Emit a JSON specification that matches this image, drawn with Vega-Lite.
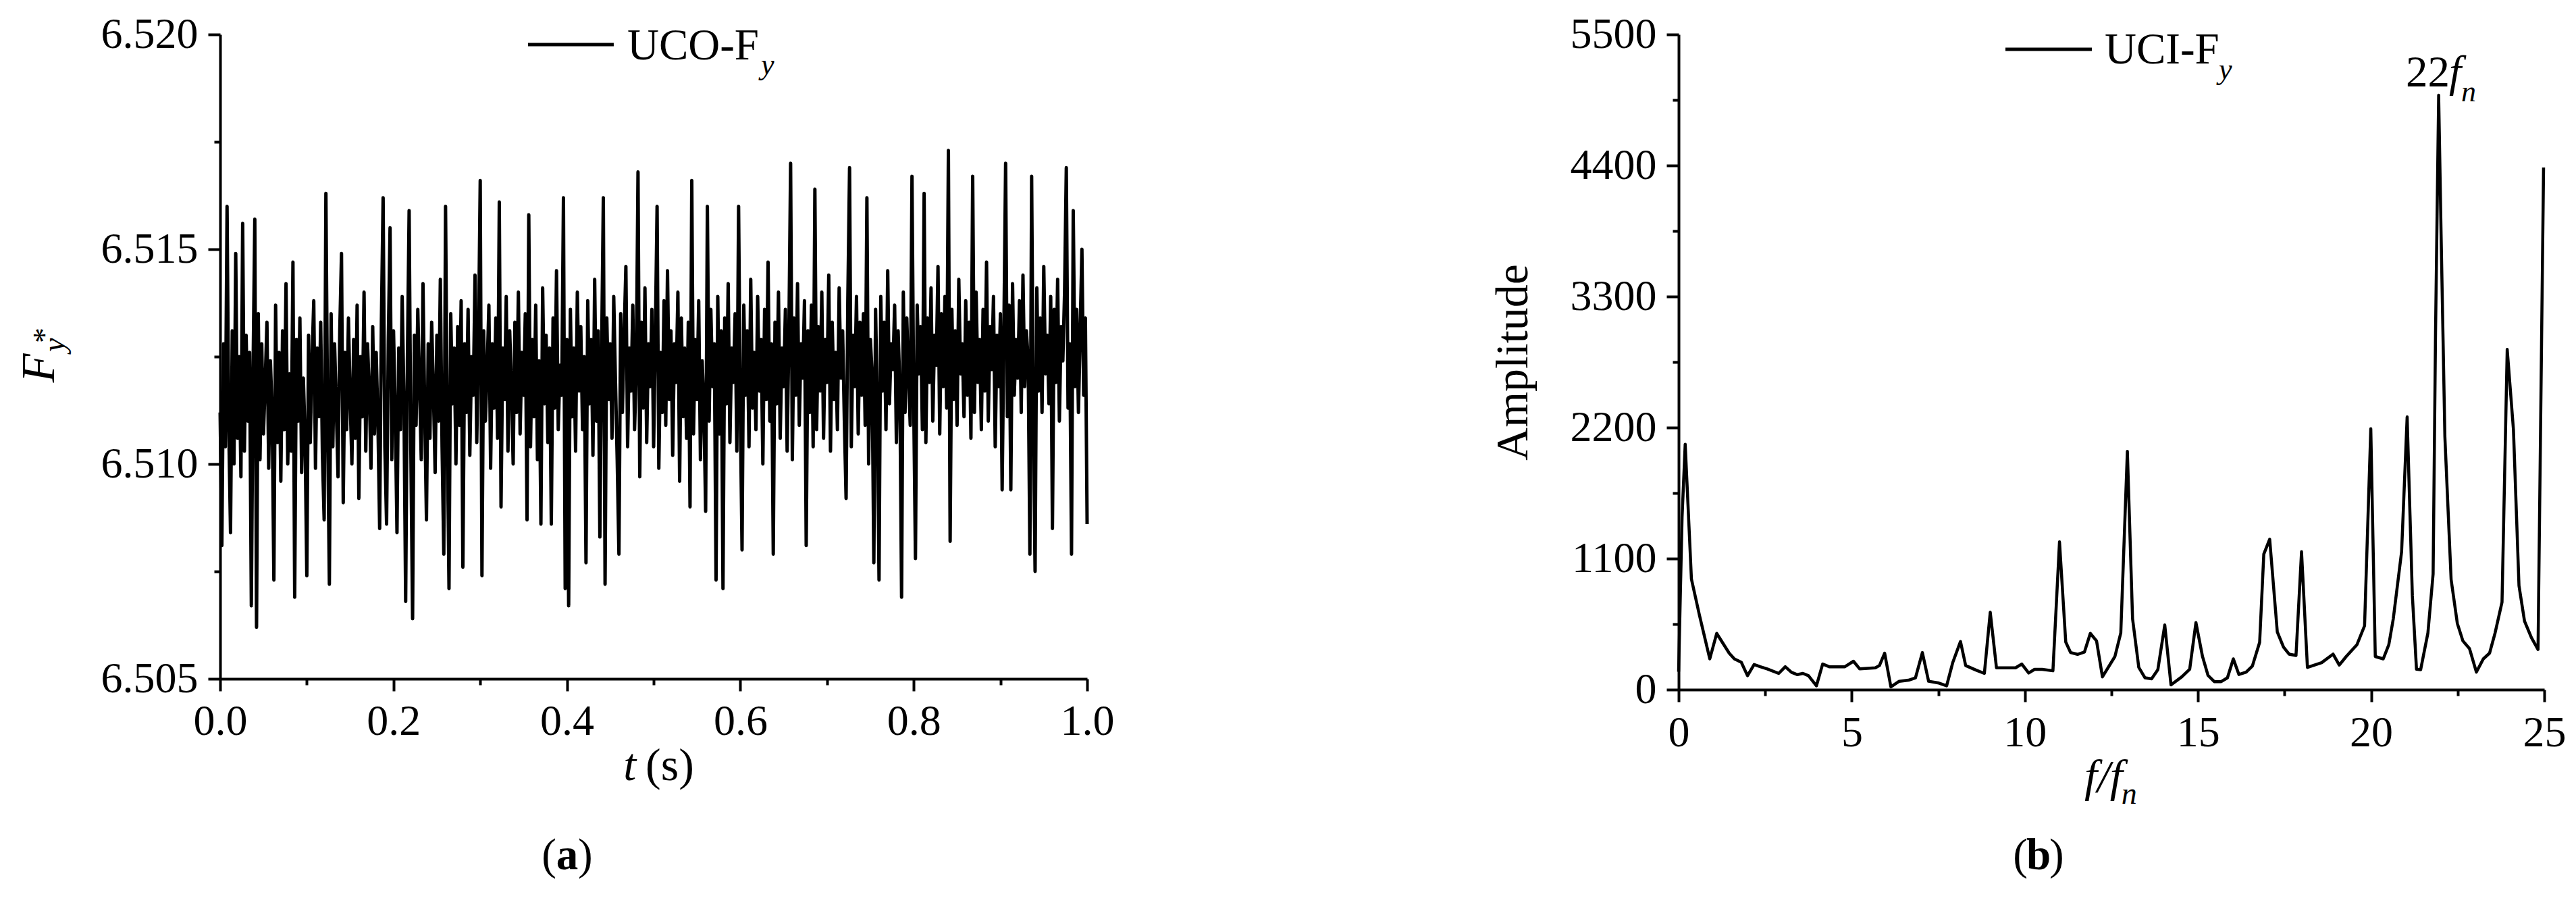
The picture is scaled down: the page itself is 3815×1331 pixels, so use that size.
{
"$schema": "https://vega.github.io/schema/vega-lite/v6.json",
"autosize": {"type": "none"},
"padding": {"left": 326, "top": 51, "right": 3489, "bottom": 1280},
"background": "white",
"bounds": "flush",
"spacing": 876,
"config": {
 "view": {"stroke": null},
 "axis": {"domainColor": "black", "domainWidth": 4, "tickColor": "black", "tickWidth": 4, "labelFont": "Liberation Serif", "labelFontSize": 64, "labelColor": "black", "grid": false, "labelFlush": false, "labelOverlap": false, "titleFont": "Liberation Serif", "titleColor": "black", "titleFontWeight": "normal"},
 "text": {"font": "Liberation Serif", "color": "black"}
},
"datasets": {
"fy": [
{"t":0,"v":6.5112},{"t":0.002,"v":6.5081},{"t":0.004,"v":6.5128},{"t":0.006,"v":6.5104},{"t":0.008,"v":6.5160},{"t":0.010,"v":6.5108},{"t":0.012,"v":6.5084},{"t":0.014,"v":6.5131},{"t":0.016,"v":6.5100},{"t":0.018,"v":6.5149},
{"t":0.020,"v":6.5106},{"t":0.022,"v":6.5125},{"t":0.024,"v":6.5097},{"t":0.026,"v":6.5156},{"t":0.028,"v":6.5103},{"t":0.030,"v":6.5130},{"t":0.032,"v":6.5110},{"t":0.034,"v":6.5126},{"t":0.036,"v":6.5067},{"t":0.038,"v":6.5122},
{"t":0.040,"v":6.5157},{"t":0.042,"v":6.5062},{"t":0.044,"v":6.5135},{"t":0.046,"v":6.5101},{"t":0.048,"v":6.5128},{"t":0.050,"v":6.5107},{"t":0.052,"v":6.5119},{"t":0.054,"v":6.5133},{"t":0.056,"v":6.5099},{"t":0.058,"v":6.5124},
{"t":0.060,"v":6.5112},{"t":0.062,"v":6.5073},{"t":0.064,"v":6.5137},{"t":0.066,"v":6.5105},{"t":0.068,"v":6.5126},{"t":0.070,"v":6.5096},{"t":0.072,"v":6.5131},{"t":0.074,"v":6.5108},{"t":0.076,"v":6.5142},{"t":0.078,"v":6.5100},
{"t":0.080,"v":6.5121},{"t":0.082,"v":6.5103},{"t":0.084,"v":6.5147},{"t":0.086,"v":6.5069},{"t":0.088,"v":6.5129},{"t":0.090,"v":6.5110},{"t":0.092,"v":6.5134},{"t":0.094,"v":6.5098},{"t":0.096,"v":6.5120},{"t":0.098,"v":6.5106},
{"t":0.100,"v":6.5074},{"t":0.102,"v":6.5130},{"t":0.104,"v":6.5105},{"t":0.106,"v":6.5124},{"t":0.108,"v":6.5138},{"t":0.110,"v":6.5099},{"t":0.112,"v":6.5127},{"t":0.114,"v":6.5111},{"t":0.116,"v":6.5133},{"t":0.118,"v":6.5102},
{"t":0.120,"v":6.5087},{"t":0.122,"v":6.5163},{"t":0.124,"v":6.5109},{"t":0.126,"v":6.5072},{"t":0.128,"v":6.5135},{"t":0.130,"v":6.5104},{"t":0.132,"v":6.5128},{"t":0.134,"v":6.5113},{"t":0.136,"v":6.5097},{"t":0.138,"v":6.5131},
{"t":0.140,"v":6.5149},{"t":0.142,"v":6.5091},{"t":0.144,"v":6.5126},{"t":0.146,"v":6.5108},{"t":0.148,"v":6.5134},{"t":0.150,"v":6.5115},{"t":0.152,"v":6.5100},{"t":0.154,"v":6.5129},{"t":0.156,"v":6.5106},{"t":0.158,"v":6.5137},
{"t":0.160,"v":6.5092},{"t":0.162,"v":6.5125},{"t":0.164,"v":6.5111},{"t":0.166,"v":6.5140},{"t":0.168,"v":6.5103},{"t":0.170,"v":6.5128},{"t":0.172,"v":6.5117},{"t":0.174,"v":6.5099},{"t":0.176,"v":6.5132},{"t":0.178,"v":6.5107},
{"t":0.180,"v":6.5126},{"t":0.182,"v":6.5110},{"t":0.184,"v":6.5085},{"t":0.186,"v":6.5133},{"t":0.188,"v":6.5162},{"t":0.190,"v":6.5104},{"t":0.192,"v":6.5086},{"t":0.194,"v":6.5129},{"t":0.196,"v":6.5155},{"t":0.198,"v":6.5101},
{"t":0.200,"v":6.5131},{"t":0.202,"v":6.5112},{"t":0.204,"v":6.5084},{"t":0.206,"v":6.5127},{"t":0.208,"v":6.5108},{"t":0.210,"v":6.5139},{"t":0.212,"v":6.5115},{"t":0.214,"v":6.5068},{"t":0.216,"v":6.5124},{"t":0.218,"v":6.5159},
{"t":0.220,"v":6.5103},{"t":0.222,"v":6.5064},{"t":0.224,"v":6.5130},{"t":0.226,"v":6.5109},{"t":0.228,"v":6.5136},{"t":0.230,"v":6.5118},{"t":0.232,"v":6.5101},{"t":0.234,"v":6.5142},{"t":0.236,"v":6.5112},{"t":0.238,"v":6.5087},
{"t":0.240,"v":6.5128},{"t":0.242,"v":6.5106},{"t":0.244,"v":6.5133},{"t":0.246,"v":6.5117},{"t":0.248,"v":6.5098},{"t":0.250,"v":6.5130},{"t":0.252,"v":6.5110},{"t":0.254,"v":6.5143},{"t":0.256,"v":6.5104},{"t":0.258,"v":6.5079},
{"t":0.260,"v":6.5160},{"t":0.262,"v":6.5107},{"t":0.264,"v":6.5071},{"t":0.266,"v":6.5135},{"t":0.268,"v":6.5114},{"t":0.270,"v":6.5127},{"t":0.272,"v":6.5100},{"t":0.274,"v":6.5132},{"t":0.276,"v":6.5109},{"t":0.278,"v":6.5138},
{"t":0.280,"v":6.5076},{"t":0.282,"v":6.5128},{"t":0.284,"v":6.5112},{"t":0.286,"v":6.5136},{"t":0.288,"v":6.5102},{"t":0.290,"v":6.5125},{"t":0.292,"v":6.5116},{"t":0.294,"v":6.5144},{"t":0.296,"v":6.5105},{"t":0.298,"v":6.5129},
{"t":0.300,"v":6.5166},{"t":0.302,"v":6.5074},{"t":0.304,"v":6.5131},{"t":0.306,"v":6.5110},{"t":0.308,"v":6.5122},{"t":0.310,"v":6.5137},{"t":0.312,"v":6.5099},{"t":0.314,"v":6.5128},{"t":0.316,"v":6.5113},{"t":0.318,"v":6.5134},
{"t":0.320,"v":6.5106},{"t":0.322,"v":6.5161},{"t":0.324,"v":6.5090},{"t":0.326,"v":6.5127},{"t":0.328,"v":6.5115},{"t":0.330,"v":6.5139},{"t":0.332,"v":6.5103},{"t":0.334,"v":6.5131},{"t":0.336,"v":6.5118},{"t":0.338,"v":6.5100},
{"t":0.340,"v":6.5133},{"t":0.342,"v":6.5112},{"t":0.344,"v":6.5140},{"t":0.346,"v":6.5107},{"t":0.348,"v":6.5126},{"t":0.350,"v":6.5116},{"t":0.352,"v":6.5135},{"t":0.354,"v":6.5087},{"t":0.356,"v":6.5158},{"t":0.358,"v":6.5104},
{"t":0.360,"v":6.5129},{"t":0.362,"v":6.5111},{"t":0.364,"v":6.5137},{"t":0.366,"v":6.5101},{"t":0.368,"v":6.5124},{"t":0.370,"v":6.5086},{"t":0.372,"v":6.5141},{"t":0.374,"v":6.5114},{"t":0.376,"v":6.5130},{"t":0.378,"v":6.5105},
{"t":0.380,"v":6.5127},{"t":0.382,"v":6.5086},{"t":0.384,"v":6.5134},{"t":0.386,"v":6.5113},{"t":0.388,"v":6.5145},{"t":0.390,"v":6.5108},{"t":0.392,"v":6.5123},{"t":0.394,"v":6.5116},{"t":0.396,"v":6.5162},{"t":0.398,"v":6.5071},
{"t":0.400,"v":6.5129},{"t":0.402,"v":6.5067},{"t":0.404,"v":6.5136},{"t":0.406,"v":6.5111},{"t":0.408,"v":6.5127},{"t":0.410,"v":6.5103},{"t":0.412,"v":6.5140},{"t":0.414,"v":6.5117},{"t":0.416,"v":6.5132},{"t":0.418,"v":6.5108},
{"t":0.420,"v":6.5125},{"t":0.422,"v":6.5077},{"t":0.424,"v":6.5138},{"t":0.426,"v":6.5114},{"t":0.428,"v":6.5129},{"t":0.430,"v":6.5102},{"t":0.432,"v":6.5143},{"t":0.434,"v":6.5110},{"t":0.436,"v":6.5131},{"t":0.438,"v":6.5083},
{"t":0.440,"v":6.5126},{"t":0.442,"v":6.5162},{"t":0.444,"v":6.5072},{"t":0.446,"v":6.5134},{"t":0.448,"v":6.5115},{"t":0.450,"v":6.5128},{"t":0.452,"v":6.5106},{"t":0.454,"v":6.5139},{"t":0.456,"v":6.5119},{"t":0.458,"v":6.5101},
{"t":0.460,"v":6.5079},{"t":0.462,"v":6.5135},{"t":0.464,"v":6.5112},{"t":0.466,"v":6.5130},{"t":0.468,"v":6.5146},{"t":0.470,"v":6.5104},{"t":0.472,"v":6.5127},{"t":0.474,"v":6.5117},{"t":0.476,"v":6.5137},{"t":0.478,"v":6.5108},
{"t":0.480,"v":6.5122},{"t":0.482,"v":6.5168},{"t":0.484,"v":6.5097},{"t":0.486,"v":6.5133},{"t":0.488,"v":6.5113},{"t":0.490,"v":6.5141},{"t":0.492,"v":6.5105},{"t":0.494,"v":6.5128},{"t":0.496,"v":6.5118},{"t":0.498,"v":6.5136},
{"t":0.500,"v":6.5104},{"t":0.502,"v":6.5130},{"t":0.504,"v":6.5160},{"t":0.506,"v":6.5099},{"t":0.508,"v":6.5126},{"t":0.510,"v":6.5112},{"t":0.512,"v":6.5138},{"t":0.514,"v":6.5109},{"t":0.516,"v":6.5145},{"t":0.518,"v":6.5115},
{"t":0.520,"v":6.5131},{"t":0.522,"v":6.5102},{"t":0.524,"v":6.5128},{"t":0.526,"v":6.5119},{"t":0.528,"v":6.5140},{"t":0.530,"v":6.5096},{"t":0.532,"v":6.5134},{"t":0.534,"v":6.5111},{"t":0.536,"v":6.5127},{"t":0.538,"v":6.5106},
{"t":0.540,"v":6.5133},{"t":0.542,"v":6.5090},{"t":0.544,"v":6.5166},{"t":0.546,"v":6.5107},{"t":0.548,"v":6.5129},{"t":0.550,"v":6.5115},{"t":0.552,"v":6.5138},{"t":0.554,"v":6.5101},{"t":0.556,"v":6.5124},{"t":0.558,"v":6.5113},
{"t":0.560,"v":6.5089},{"t":0.562,"v":6.5160},{"t":0.564,"v":6.5110},{"t":0.566,"v":6.5136},{"t":0.568,"v":6.5118},{"t":0.570,"v":6.5128},{"t":0.572,"v":6.5073},{"t":0.574,"v":6.5139},{"t":0.576,"v":6.5107},{"t":0.578,"v":6.5131},
{"t":0.580,"v":6.5071},{"t":0.582,"v":6.5134},{"t":0.584,"v":6.5114},{"t":0.586,"v":6.5142},{"t":0.588,"v":6.5105},{"t":0.590,"v":6.5127},{"t":0.592,"v":6.5119},{"t":0.594,"v":6.5135},{"t":0.596,"v":6.5103},{"t":0.598,"v":6.5160},
{"t":0.600,"v":6.5112},{"t":0.602,"v":6.5080},{"t":0.604,"v":6.5137},{"t":0.606,"v":6.5116},{"t":0.608,"v":6.5131},{"t":0.610,"v":6.5104},{"t":0.612,"v":6.5143},{"t":0.614,"v":6.5113},{"t":0.616,"v":6.5126},{"t":0.618,"v":6.5108},
{"t":0.620,"v":6.5139},{"t":0.622,"v":6.5117},{"t":0.624,"v":6.5129},{"t":0.626,"v":6.5100},{"t":0.628,"v":6.5136},{"t":0.630,"v":6.5115},{"t":0.632,"v":6.5147},{"t":0.634,"v":6.5110},{"t":0.636,"v":6.5128},{"t":0.638,"v":6.5079},
{"t":0.640,"v":6.5133},{"t":0.642,"v":6.5114},{"t":0.644,"v":6.5140},{"t":0.646,"v":6.5106},{"t":0.648,"v":6.5127},{"t":0.650,"v":6.5118},{"t":0.652,"v":6.5136},{"t":0.654,"v":6.5103},{"t":0.656,"v":6.5130},{"t":0.658,"v":6.5170},
{"t":0.660,"v":6.5101},{"t":0.662,"v":6.5134},{"t":0.664,"v":6.5116},{"t":0.666,"v":6.5142},{"t":0.668,"v":6.5109},{"t":0.670,"v":6.5128},{"t":0.672,"v":6.5120},{"t":0.674,"v":6.5138},{"t":0.676,"v":6.5081},{"t":0.678,"v":6.5131},
{"t":0.680,"v":6.5112},{"t":0.682,"v":6.5137},{"t":0.684,"v":6.5104},{"t":0.686,"v":6.5164},{"t":0.688,"v":6.5108},{"t":0.690,"v":6.5132},{"t":0.692,"v":6.5117},{"t":0.694,"v":6.5140},{"t":0.696,"v":6.5106},{"t":0.698,"v":6.5129},
{"t":0.700,"v":6.5119},{"t":0.702,"v":6.5144},{"t":0.704,"v":6.5103},{"t":0.706,"v":6.5133},{"t":0.708,"v":6.5115},{"t":0.710,"v":6.5126},{"t":0.712,"v":6.5108},{"t":0.714,"v":6.5141},{"t":0.716,"v":6.5120},{"t":0.718,"v":6.5131},
{"t":0.720,"v":6.5110},{"t":0.722,"v":6.5092},{"t":0.724,"v":6.5138},{"t":0.726,"v":6.5169},{"t":0.728,"v":6.5104},{"t":0.730,"v":6.5130},{"t":0.732,"v":6.5118},{"t":0.734,"v":6.5139},{"t":0.736,"v":6.5107},{"t":0.738,"v":6.5133},
{"t":0.740,"v":6.5116},{"t":0.742,"v":6.5135},{"t":0.744,"v":6.5109},{"t":0.746,"v":6.5162},{"t":0.748,"v":6.5100},{"t":0.750,"v":6.5129},{"t":0.752,"v":6.5121},{"t":0.754,"v":6.5077},{"t":0.756,"v":6.5136},{"t":0.758,"v":6.5113},
{"t":0.760,"v":6.5073},{"t":0.762,"v":6.5139},{"t":0.764,"v":6.5117},{"t":0.766,"v":6.5133},{"t":0.768,"v":6.5108},{"t":0.770,"v":6.5145},{"t":0.772,"v":6.5114},{"t":0.774,"v":6.5128},{"t":0.776,"v":6.5122},{"t":0.778,"v":6.5137},
{"t":0.780,"v":6.5105},{"t":0.782,"v":6.5131},{"t":0.784,"v":6.5118},{"t":0.786,"v":6.5069},{"t":0.788,"v":6.5140},{"t":0.790,"v":6.5112},{"t":0.792,"v":6.5134},{"t":0.794,"v":6.5120},{"t":0.796,"v":6.5109},{"t":0.798,"v":6.5167},
{"t":0.800,"v":6.5114},{"t":0.802,"v":6.5078},{"t":0.804,"v":6.5137},{"t":0.806,"v":6.5121},{"t":0.808,"v":6.5132},{"t":0.810,"v":6.5108},{"t":0.812,"v":6.5163},{"t":0.814,"v":6.5105},{"t":0.816,"v":6.5134},{"t":0.818,"v":6.5119},
{"t":0.820,"v":6.5141},{"t":0.822,"v":6.5110},{"t":0.824,"v":6.5130},{"t":0.826,"v":6.5123},{"t":0.828,"v":6.5146},{"t":0.830,"v":6.5107},{"t":0.832,"v":6.5135},{"t":0.834,"v":6.5118},{"t":0.836,"v":6.5139},{"t":0.838,"v":6.5113},
{"t":0.840,"v":6.5173},{"t":0.842,"v":6.5082},{"t":0.844,"v":6.5136},{"t":0.846,"v":6.5115},{"t":0.848,"v":6.5131},{"t":0.850,"v":6.5109},{"t":0.852,"v":6.5143},{"t":0.854,"v":6.5121},{"t":0.856,"v":6.5128},{"t":0.858,"v":6.5111},
{"t":0.860,"v":6.5138},{"t":0.862,"v":6.5116},{"t":0.864,"v":6.5133},{"t":0.866,"v":6.5106},{"t":0.868,"v":6.5167},{"t":0.870,"v":6.5112},{"t":0.872,"v":6.5140},{"t":0.874,"v":6.5119},{"t":0.876,"v":6.5129},{"t":0.878,"v":6.5108},
{"t":0.880,"v":6.5136},{"t":0.882,"v":6.5117},{"t":0.884,"v":6.5147},{"t":0.886,"v":6.5110},{"t":0.888,"v":6.5132},{"t":0.890,"v":6.5122},{"t":0.892,"v":6.5139},{"t":0.894,"v":6.5104},{"t":0.896,"v":6.5130},{"t":0.898,"v":6.5118},
{"t":0.900,"v":6.5135},{"t":0.902,"v":6.5094},{"t":0.904,"v":6.5131},{"t":0.906,"v":6.5170},{"t":0.908,"v":6.5111},{"t":0.910,"v":6.5137},{"t":0.912,"v":6.5094},{"t":0.914,"v":6.5142},{"t":0.916,"v":6.5116},{"t":0.918,"v":6.5129},
{"t":0.920,"v":6.5120},{"t":0.922,"v":6.5138},{"t":0.924,"v":6.5112},{"t":0.926,"v":6.5144},{"t":0.928,"v":6.5118},{"t":0.930,"v":6.5131},{"t":0.932,"v":6.5124},{"t":0.934,"v":6.5079},{"t":0.936,"v":6.5167},{"t":0.938,"v":6.5109},
{"t":0.940,"v":6.5075},{"t":0.942,"v":6.5141},{"t":0.944,"v":6.5117},{"t":0.946,"v":6.5134},{"t":0.948,"v":6.5112},{"t":0.950,"v":6.5146},{"t":0.952,"v":6.5121},{"t":0.954,"v":6.5130},{"t":0.956,"v":6.5114},{"t":0.958,"v":6.5139},
{"t":0.960,"v":6.5085},{"t":0.962,"v":6.5136},{"t":0.964,"v":6.5119},{"t":0.966,"v":6.5143},{"t":0.968,"v":6.5110},{"t":0.970,"v":6.5132},{"t":0.972,"v":6.5124},{"t":0.974,"v":6.5140},{"t":0.976,"v":6.5169},{"t":0.978,"v":6.5113},
{"t":0.980,"v":6.5128},{"t":0.982,"v":6.5079},{"t":0.984,"v":6.5159},{"t":0.986,"v":6.5118},{"t":0.988,"v":6.5136},{"t":0.990,"v":6.5112},{"t":0.992,"v":6.5131},{"t":0.994,"v":6.5150},{"t":0.996,"v":6.5116},{"t":0.998,"v":6.5134},
{"t":1,"v":6.5086}
],
"amp": [
{"f":0,"a":150},{"f":0.1,"a":1450},{"f":0.19,"a":2060},{"f":0.37,"a":928},{"f":0.6,"a":626},{"f":0.9,"a":258},{"f":1.1,"a":472},{"f":1.46,"a":306},{"f":1.61,"a":258},{"f":1.81,"a":230},
{"f":1.99,"a":117},{"f":2.18,"a":211},{"f":2.36,"a":192},{"f":2.56,"a":174},{"f":2.89,"a":136},{"f":3.08,"a":192},{"f":3.26,"a":145},{"f":3.43,"a":126},{"f":3.59,"a":136},{"f":3.75,"a":117},
{"f":3.98,"a":32},{"f":4.16,"a":215},{"f":4.35,"a":192},{"f":4.8,"a":192},{"f":5.05,"a":238},{"f":5.23,"a":174},{"f":5.68,"a":183},{"f":5.8,"a":202},{"f":5.95,"a":306},{"f":6.13,"a":23},
{"f":6.37,"a":70},{"f":6.64,"a":79},{"f":6.84,"a":98},{"f":7.04,"a":311},{"f":7.22,"a":70},{"f":7.49,"a":57},{"f":7.74,"a":32},{"f":7.92,"a":230},{"f":8.14,"a":404},{"f":8.29,"a":202},
{"f":8.59,"a":164},{"f":8.83,"a":136},{"f":9.0,"a":649},{"f":9.18,"a":183},{"f":9.48,"a":183},{"f":9.73,"a":183},{"f":9.91,"a":215},{"f":10.11,"a":140},{"f":10.28,"a":170},{"f":10.5,"a":170},
{"f":10.81,"a":158},{"f":11.0,"a":1240},{"f":11.18,"a":400},{"f":11.32,"a":311},{"f":11.52,"a":296},{"f":11.72,"a":315},{"f":11.89,"a":472},{"f":12.07,"a":409},{"f":12.24,"a":107},{"f":12.6,"a":278},
{"f":12.77,"a":476},{"f":12.96,"a":2000},{"f":13.11,"a":595},{"f":13.29,"a":186},{"f":13.47,"a":99},{"f":13.66,"a":91},{"f":13.84,"a":167},{"f":14.04,"a":543},{"f":14.22,"a":40},{"f":14.53,"a":107},
{"f":14.76,"a":171},{"f":14.94,"a":563},{"f":15.13,"a":278},{"f":15.29,"a":119},{"f":15.47,"a":67},{"f":15.67,"a":67},{"f":15.85,"a":99},{"f":16.02,"a":258},{"f":16.18,"a":127},{"f":16.39,"a":147},
{"f":16.57,"a":198},{"f":16.78,"a":397},{"f":16.9,"a":1138},{"f":17.07,"a":1262},{"f":17.29,"a":484},{"f":17.47,"a":357},{"f":17.63,"a":298},{"f":17.83,"a":286},{"f":17.99,"a":1158},{"f":18.16,"a":186},
{"f":18.57,"a":226},{"f":18.9,"a":298},{"f":19.08,"a":206},{"f":19.28,"a":278},{"f":19.59,"a":377},{"f":19.81,"a":536},{"f":19.99,"a":2190},{"f":20.12,"a":278},{"f":20.35,"a":258},{"f":20.51,"a":377},
{"f":20.64,"a":595},{"f":20.88,"a":1158},{"f":21.04,"a":2289},{"f":21.19,"a":793},{"f":21.31,"a":171},{"f":21.43,"a":167},{"f":21.64,"a":476},{"f":21.79,"a":972},{"f":21.86,"a":2995},{"f":21.95,"a":4990},
{"f":22.02,"a":3828},{"f":22.13,"a":2122},{"f":22.31,"a":924},{"f":22.49,"a":555},{"f":22.65,"a":409},{"f":22.84,"a":345},{"f":23.04,"a":147},{"f":23.24,"a":258},{"f":23.42,"a":306},{"f":23.58,"a":476},
{"f":23.78,"a":734},{"f":23.93,"a":2856},{"f":24.11,"a":2182},{"f":24.27,"a":873},{"f":24.43,"a":575},{"f":24.63,"a":436},{"f":24.82,"a":337},{"f":24.98,"a":4383}
]
},
"hconcat": [
{
 "width": 1284, "height": 954,
 "resolve": {"axis": {"x": "independent", "y": "independent"}},
 "layer": [
  {"data": {"name": "fy"}, "mark": {"type": "line", "color": "black", "strokeWidth": 5, "strokeJoin": "round"},
   "encoding": {
    "x": {"field": "t", "type": "quantitative", "scale": {"domain": [0, 1], "nice": false, "zero": false}, "axis": {"orient": "bottom", "values": [0, 0.2, 0.4, 0.6, 0.8, 1], "format": ".1f", "tickSize": 18, "labelPadding": 13, "title": null}},
    "y": {"field": "v", "type": "quantitative", "scale": {"domain": [6.505, 6.52], "nice": false, "zero": false}, "axis": {"orient": "left", "values": [6.505, 6.51, 6.515, 6.52], "format": ".3f", "tickSize": 18, "labelPadding": 15, "title": null}}
   }},
  {"data": {"values": [{}]}, "mark": {"type": "rule", "color": "black", "strokeWidth": 5},
   "encoding": {
    "x": {"datum": 0.3551, "type": "quantitative", "axis": {"orient": "bottom", "values": [0.1, 0.3, 0.5, 0.7, 0.9], "tickSize": 9, "labels": false, "domain": false, "title": null}},
    "x2": {"datum": 0.454},
    "y": {"datum": 6.519764, "type": "quantitative", "axis": {"orient": "left", "values": [6.5075, 6.5125, 6.5175], "tickSize": 9, "labels": false, "domain": false, "title": null}}
   }},
  {"data": {"values": [{}]}, "mark": {"type": "text", "fontSize": 65, "align": "left", "baseline": "alphabetic"},
   "encoding": {"x": {"datum": 0.4696, "type": "quantitative", "axis": null}, "y": {"datum": 6.519418, "type": "quantitative", "axis": null}, "text": {"value": "UCO-F"}}},
  {"data": {"values": [{}]}, "mark": {"type": "text", "fontSize": 44, "fontStyle": "italic", "align": "left", "baseline": "alphabetic"},
   "encoding": {"x": {"datum": 0.6238, "type": "quantitative", "axis": null}, "y": {"datum": 6.519072, "type": "quantitative", "axis": null}, "text": {"value": "y"}}},
  {"data": {"values": [{}]}, "mark": {"type": "text", "fontSize": 70, "fontStyle": "italic", "align": "center", "baseline": "alphabetic", "angle": 270},
   "encoding": {"x": {"datum": -0.1916, "type": "quantitative", "axis": null}, "y": {"datum": 6.512233, "type": "quantitative", "axis": null}, "text": {"value": "F"}}},
  {"data": {"values": [{}]}, "mark": {"type": "text", "fontSize": 46, "fontStyle": "italic", "align": "left", "baseline": "alphabetic", "angle": 270},
   "encoding": {"x": {"datum": -0.1799, "type": "quantitative", "axis": null}, "y": {"datum": 6.51261, "type": "quantitative", "axis": null}, "text": {"value": "y"}}},
  {"data": {"values": [{}]}, "mark": {"type": "text", "fontSize": 46, "align": "left", "baseline": "alphabetic", "angle": 270},
   "encoding": {"x": {"datum": -0.1908, "type": "quantitative", "axis": null}, "y": {"datum": 6.512815, "type": "quantitative", "axis": null}, "text": {"value": "*"}}},
  {"data": {"values": [{}]}, "mark": {"type": "text", "fontSize": 68, "fontStyle": "italic", "align": "right", "baseline": "alphabetic"},
   "encoding": {"x": {"datum": 0.4798, "type": "quantitative", "axis": null}, "y": {"datum": 6.502642, "type": "quantitative", "axis": null}, "text": {"value": "t"}}},
  {"data": {"values": [{}]}, "mark": {"type": "text", "fontSize": 68, "align": "left", "baseline": "alphabetic"},
   "encoding": {"x": {"datum": 0.4907, "type": "quantitative", "axis": null}, "y": {"datum": 6.502642, "type": "quantitative", "axis": null}, "text": {"value": "(s)"}}},
  {"data": {"values": [{}]}, "mark": {"type": "text", "fontSize": 65, "align": "right", "baseline": "alphabetic"},
   "encoding": {"x": {"datum": 0.3878, "type": "quantitative", "axis": null}, "y": {"datum": 6.500566, "type": "quantitative", "axis": null}, "text": {"value": "("}}},
  {"data": {"values": [{}]}, "mark": {"type": "text", "fontSize": 65, "fontWeight": "bold", "align": "center", "baseline": "alphabetic"},
   "encoding": {"x": {"datum": 0.4003, "type": "quantitative", "axis": null}, "y": {"datum": 6.500566, "type": "quantitative", "axis": null}, "text": {"value": "a"}}},
  {"data": {"values": [{}]}, "mark": {"type": "text", "fontSize": 65, "align": "left", "baseline": "alphabetic"},
   "encoding": {"x": {"datum": 0.4128, "type": "quantitative", "axis": null}, "y": {"datum": 6.500566, "type": "quantitative", "axis": null}, "text": {"value": ")"}}}
 ]
},
{
 "width": 1282, "height": 970,
 "resolve": {"axis": {"x": "independent", "y": "independent"}},
 "layer": [
  {"data": {"name": "amp"}, "mark": {"type": "line", "color": "black", "strokeWidth": 4.5, "strokeJoin": "round"},
   "encoding": {
    "x": {"field": "f", "type": "quantitative", "scale": {"domain": [0, 25], "nice": false, "zero": false}, "axis": {"orient": "bottom", "values": [0, 5, 10, 15, 20, 25], "format": "d", "tickSize": 18, "labelPadding": 14, "title": null}},
    "y": {"field": "a", "type": "quantitative", "scale": {"domain": [0, 5500], "nice": false, "zero": false}, "axis": {"orient": "left", "values": [0, 1100, 2200, 3300, 4400, 5500], "format": "d", "tickSize": 18, "labelPadding": 15, "title": "Amplitude", "titleFontSize": 68, "titlePadding": 50}}
   }},
  {"data": {"values": [{}]}, "mark": {"type": "rule", "color": "black", "strokeWidth": 5},
   "encoding": {
    "x": {"datum": 9.438, "type": "quantitative", "axis": {"orient": "bottom", "values": [2.5, 7.5, 12.5, 17.5, 22.5], "tickSize": 9, "labels": false, "domain": false, "title": null}},
    "x2": {"datum": 11.934},
    "y": {"datum": 5375, "type": "quantitative", "axis": {"orient": "left", "values": [550, 1650, 2750, 3850, 4950], "tickSize": 9, "labels": false, "domain": false, "title": null}}
   }},
  {"data": {"values": [{}]}, "mark": {"type": "text", "fontSize": 65, "align": "left", "baseline": "alphabetic"},
   "encoding": {"x": {"datum": 12.305, "type": "quantitative", "axis": null}, "y": {"datum": 5256, "type": "quantitative", "axis": null}, "text": {"value": "UCI-F"}}},
  {"data": {"values": [{}]}, "mark": {"type": "text", "fontSize": 44, "fontStyle": "italic", "align": "left", "baseline": "alphabetic"},
   "encoding": {"x": {"datum": 15.6, "type": "quantitative", "axis": null}, "y": {"datum": 5126, "type": "quantitative", "axis": null}, "text": {"value": "y"}}},
  {"data": {"values": [{}]}, "mark": {"type": "text", "fontSize": 65, "align": "left", "baseline": "alphabetic"},
   "encoding": {"x": {"datum": 21.002, "type": "quantitative", "axis": null}, "y": {"datum": 5063, "type": "quantitative", "axis": null}, "text": {"value": "22"}}},
  {"data": {"values": [{}]}, "mark": {"type": "text", "fontSize": 65, "fontStyle": "italic", "align": "left", "baseline": "alphabetic"},
   "encoding": {"x": {"datum": 22.25, "type": "quantitative", "axis": null}, "y": {"datum": 5063, "type": "quantitative", "axis": null}, "text": {"value": "f"}}},
  {"data": {"values": [{}]}, "mark": {"type": "text", "fontSize": 44, "fontStyle": "italic", "align": "left", "baseline": "alphabetic"},
   "encoding": {"x": {"datum": 22.6, "type": "quantitative", "axis": null}, "y": {"datum": 4939, "type": "quantitative", "axis": null}, "text": {"value": "n"}}},
  {"data": {"values": [{}]}, "mark": {"type": "text", "fontSize": 68, "fontStyle": "italic", "align": "left", "baseline": "alphabetic"},
   "encoding": {"x": {"datum": 11.72, "type": "quantitative", "axis": null}, "y": {"datum": -856, "type": "quantitative", "axis": null}, "text": {"value": "f/f"}}},
  {"data": {"values": [{}]}, "mark": {"type": "text", "fontSize": 46, "fontStyle": "italic", "align": "left", "baseline": "alphabetic"},
   "encoding": {"x": {"datum": 12.79, "type": "quantitative", "axis": null}, "y": {"datum": -958, "type": "quantitative", "axis": null}, "text": {"value": "n"}}},
  {"data": {"values": [{}]}, "mark": {"type": "text", "fontSize": 65, "align": "right", "baseline": "alphabetic"},
   "encoding": {"x": {"datum": 10.082, "type": "quantitative", "axis": null}, "y": {"datum": -1508, "type": "quantitative", "axis": null}, "text": {"value": "("}}},
  {"data": {"values": [{}]}, "mark": {"type": "text", "fontSize": 65, "fontWeight": "bold", "align": "center", "baseline": "alphabetic"},
   "encoding": {"x": {"datum": 10.394, "type": "quantitative", "axis": null}, "y": {"datum": -1508, "type": "quantitative", "axis": null}, "text": {"value": "b"}}},
  {"data": {"values": [{}]}, "mark": {"type": "text", "fontSize": 65, "align": "left", "baseline": "alphabetic"},
   "encoding": {"x": {"datum": 10.706, "type": "quantitative", "axis": null}, "y": {"datum": -1508, "type": "quantitative", "axis": null}, "text": {"value": ")"}}}
 ]
}
]
}
